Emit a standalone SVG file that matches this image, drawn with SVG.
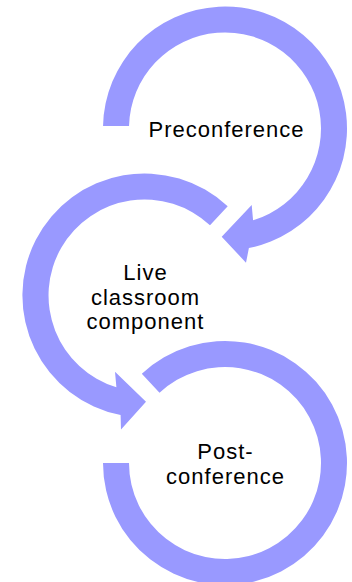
<svg xmlns="http://www.w3.org/2000/svg" width="352" height="582" viewBox="0 0 352 582">
<style>
.arr{fill:#9999ff;stroke:none}
.t{font-family:"Liberation Sans",Arial,sans-serif;font-size:22px;fill:#000;text-anchor:middle;letter-spacing:1px}
</style>
<rect width="352" height="582" fill="#fff"/>
<g id="connectors"></g>
<g id="node1">
<path class="arr" d="M103.03,126 A122,122 0 1 1 248.9,248.1 L246,262.7 L221.7,236.7 L251.7,205 L253.07,220.3 A96,96 0 1 0 129.03,126 Z"/>
<text class="t" x="226.5" y="136.5">Preconference</text>
</g>
<g id="node2">
<path class="arr" d="M227.7,206.3 A122,122 0 1 0 120.6,415.1 L121,429.5 L146,401.7 L115,371.7 L116.4,387.3 A96,96 0 1 1 210,225.3 Z"/>
<text class="t" x="145.5" y="280">Live</text>
<text class="t" x="145.5" y="304.5">classroom</text>
<text class="t" x="145.5" y="329">component</text>
</g>
<g id="node3">
<path class="arr" d="M141.8,373.8 A122,122 0 1 1 103,463 L129,463 A96,96 0 1 0 159.5,392.8 Z"/>
<text class="t" x="225.5" y="459">Post-</text>
<text class="t" x="225.5" y="483.5">conference</text>
</g>
</svg>
